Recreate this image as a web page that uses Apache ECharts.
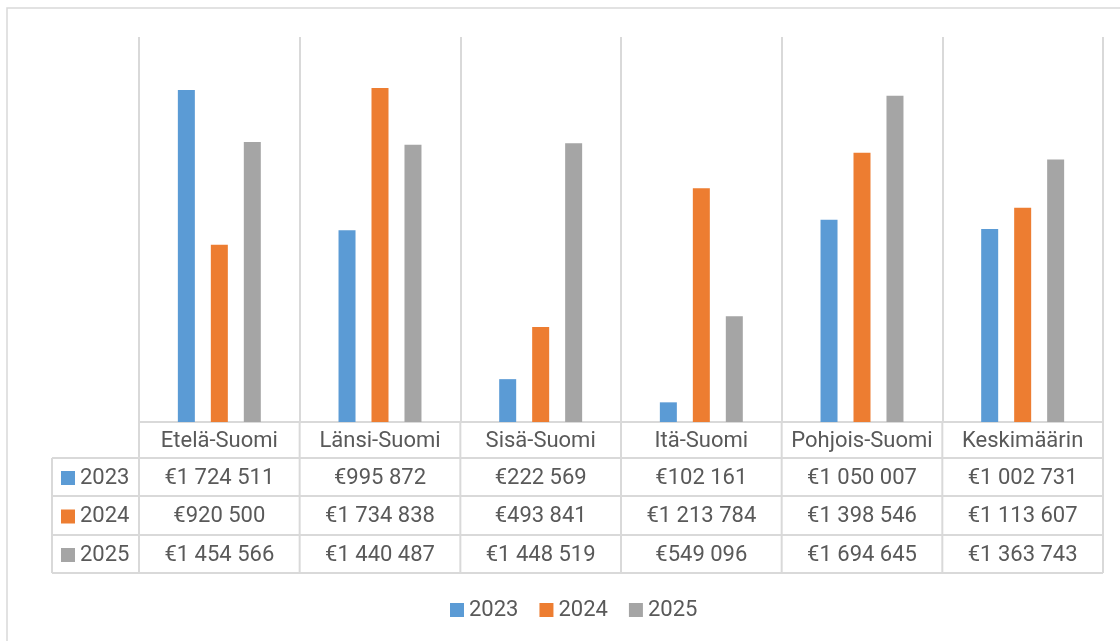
<!DOCTYPE html>
<html>
<head>
<meta charset="utf-8">
<script src="https://cdn.jsdelivr.net/npm/echarts@6/dist/echarts.min.js"></script>
<style>
html,body{margin:0;padding:0;background:#fff;}
#c{width:1120px;height:641px;}
</style>
</head>
<body>
<div id="c"></div>
<script>
var categories = ['Etelä-Suomi', 'Länsi-Suomi', 'Sisä-Suomi', 'Itä-Suomi', 'Pohjois-Suomi', 'Keskimäärin'];
var seriesNames = ['2023', '2024', '2025'];
var values2023 = [1724511, 995872, 222569, 102161, 1050007, 1002731];
var values2024 = [920500, 1734838, 493841, 1213784, 1398546, 1113607];
var values2025 = [1454566, 1440487, 1448519, 549096, 1694645, 1363743];
var colors = ['#5B9BD5', '#ED7D31', '#A5A5A5'];
var allValues = [values2023, values2024, values2025];

var FONT = 'Roboto';
var FS = 22;
var TXT = '#595959';
var LINE = '#d9d9d9';

function fmt(v) {
  return '€' + String(v).replace(/\B(?=(\d{3})+(?!\d))/g, ' ');
}

var chart = echarts.init(document.getElementById('c'), null, {renderer: 'canvas'});

var option = {
  animation: false,
  textStyle: {fontFamily: FONT},
  grid: {left: 139, right: 17, top: 37, bottom: 219, containLabel: false},
  legend: {
    data: seriesNames,
    left: 450,
    top: 599,
    padding: 0,
    itemWidth: 14,
    itemHeight: 14,
    itemGap: 21,
    icon: 'rect',
    textStyle: {fontFamily: FONT, fontSize: FS, color: TXT}
  },
  xAxis: {
    type: 'category',
    data: categories,
    boundaryGap: true,
    axisLine: {show: false},
    axisTick: {show: false},
    axisLabel: {show: false},
    splitLine: {show: true, lineStyle: {color: LINE, width: 2}}
  },
  yAxis: {
    type: 'value',
    min: 0,
    max: 2000000,
    interval: 500000,
    axisLine: {show: false},
    axisTick: {show: false},
    axisLabel: {show: false},
    splitLine: {show: false}
  },
  series: seriesNames.map(function (n, i) {
    return {
      name: n,
      type: 'bar',
      data: allValues[i],
      barWidth: 17,
      barGap: '94%',
      itemStyle: {color: colors[i]}
    };
  })
};
chart.setOption(option);

// Build data table below the plot from the arrays
var gridRect = chart.getModel().getComponent('grid').coordinateSystem.getRect();
var xL = gridRect.x, xR = gridRect.x + gridRect.width, yB = gridRect.y + gridRect.height;
var step = gridRect.width / categories.length;
var rowH = [36, 38, 39, 38];
var rowY = [yB];
for (var r = 0; r < rowH.length; r++) rowY.push(rowY[r] + rowH[r]);
var tableLeft = 52;
var g = [];
var ls = {stroke: LINE, lineWidth: 2};
var font = FS + 'px ' + FONT;
// outer chart border
g.push({type: 'rect', shape: {x: 7, y: 8, width: 1130, height: 660}, style: {fill: null, stroke: LINE, lineWidth: 1.5}, silent: true});
// vertical lines in table (category columns)
for (var c = 0; c <= categories.length; c++) {
  var x = xL + step * c;
  g.push({type: 'line', shape: {x1: x, y1: rowY[0], x2: x, y2: rowY[4]}, style: ls, silent: true});
}
g.push({type: 'line', shape: {x1: tableLeft, y1: rowY[1], x2: tableLeft, y2: rowY[4]}, style: ls, silent: true});
// horizontal lines
g.push({type: 'line', shape: {x1: xL, y1: rowY[0], x2: xR, y2: rowY[0]}, style: ls, silent: true});
for (var r2 = 1; r2 <= 4; r2++) {
  g.push({type: 'line', shape: {x1: tableLeft, y1: rowY[r2], x2: xR, y2: rowY[r2]}, style: ls, silent: true});
}
// header texts
categories.forEach(function (cat, i) {
  var cx = chart.convertToPixel({xAxisIndex: 0}, cat);
  g.push({type: 'text', x: cx, y: (rowY[0] + rowY[1]) / 2 + 1, style: {text: cat, fill: TXT, font: font, textAlign: 'center', textVerticalAlign: 'middle'}, silent: true});
});
// row headers and values
seriesNames.forEach(function (n, s) {
  var cy = (rowY[s + 1] + rowY[s + 2]) / 2 + 1;
  g.push({type: 'rect', shape: {x: 61, y: cy - 7, width: 14, height: 14}, style: {fill: colors[s]}, silent: true});
  g.push({type: 'text', x: 80, y: cy, style: {text: n, fill: TXT, font: font, textAlign: 'left', textVerticalAlign: 'middle'}, silent: true});
  allValues[s].forEach(function (v, i) {
    var cx = chart.convertToPixel({xAxisIndex: 0}, categories[i]);
    g.push({type: 'text', x: cx, y: cy, style: {text: fmt(v), fill: TXT, font: font, textAlign: 'center', textVerticalAlign: 'middle'}, silent: true});
  });
});
chart.setOption({graphic: g});
</script>
</body>
</html>
